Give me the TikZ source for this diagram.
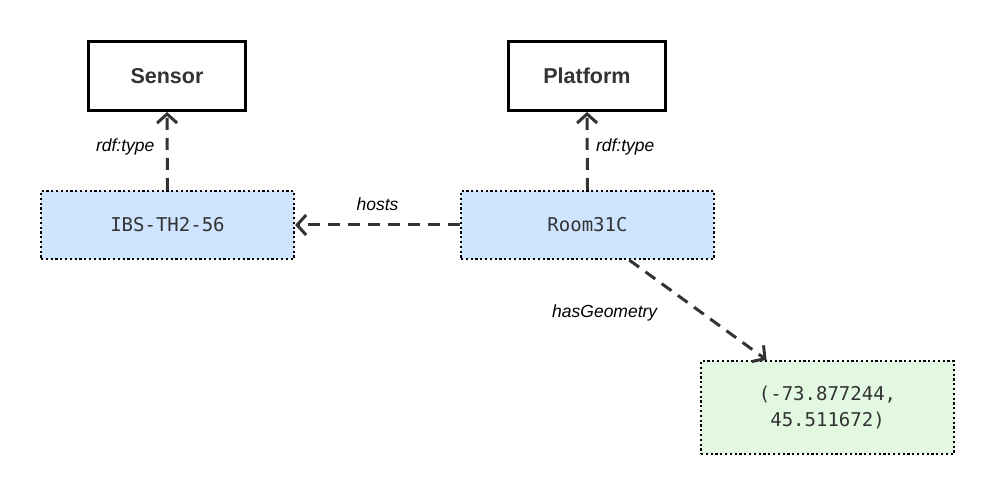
\documentclass[tikz,border=0pt]{standalone}
\usepackage{fontspec}
\setmainfont{Liberation Sans}
\setsansfont{Liberation Sans}
\setmonofont{DejaVu Sans Mono}
\usetikzlibrary{arrows.meta, positioning}
\definecolor{MyBlue}{HTML}{CFE4FF}
\definecolor{MyGreen}{HTML}{E3F8E1}
\definecolor{MyGray}{HTML}{333333}

\begin{document}
\begin{tikzpicture} [
			x=1pt, y=-1pt,
			class/.style={draw,line width=3pt,rectangle,minimum width=157pt,minimum height=69pt,font=\fontsize{21.5}{26}\selectfont\bfseries,text=MyGray},
			inst/.style={draw,line width=2.2pt,dash pattern=on 2.2pt off 2.6pt,rectangle,minimum width=253pt,minimum height=68pt,fill=MyBlue,font=\fontsize{19}{23}\selectfont\ttfamily,text=MyGray},
			geom/.style={inst,fill=MyGreen,minimum height=93pt,align=center,font=\fontsize{19}{26}\selectfont\ttfamily},
			legend/.style={draw=none,fill=none,align=center,font=\fontsize{17.5}{21}\selectfont\itshape,text=black},
			rel/.style={draw=MyGray,line width=3pt,dash pattern=on 12pt off 8pt,-{Straight Barb[length=9pt,width=20pt,line width=3pt]}}
		]
			\useasboundingbox (0,0) rectangle (995,494);
			\node at (167,76) [class] (nodeSensor) {Sensor};
			\node at (587,76) [class] (nodePlatform) {Platform};
			\node at (167.5,225) [inst] (nodeIBS) {IBS-TH2-56};
			\node at (587.5,225) [inst] (nodeRoom) {Room31C};
			\node at (827.5,407.5) [geom] (nodeGeom) {(-73.877244,\\45.511672)};
			\path (nodeIBS.north) edge[rel] node [legend,left=8pt,pos=0.55] {rdf:type} (nodeSensor.south);
			\path (nodeRoom.north) edge[rel] node [legend,right=4pt,pos=0.55] {rdf:type} (nodePlatform.south);
			\path (nodeRoom.west) edge[rel] node [legend,above=9pt] {hosts} (nodeIBS.east);
			\path (nodeRoom.-40) edge[rel] node [legend,left=40pt,pos=0.53] {hasGeometry} (nodeGeom.142);
		\end{tikzpicture}
\end{document}
